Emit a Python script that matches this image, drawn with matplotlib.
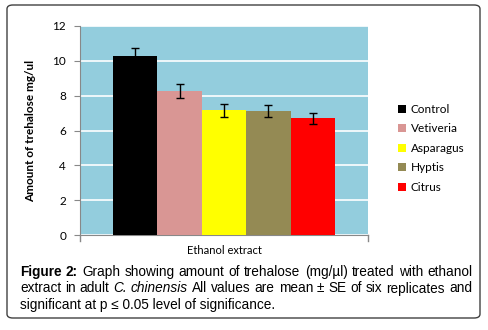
import matplotlib
matplotlib.use("Agg")
import matplotlib.pyplot as plt
from matplotlib.patches import FancyBboxPatch, Patch

# data
groups = ["Control", "Vetiveria", "Asparagus", "Hyptis", "Citrus"]
means = [10.25, 8.25, 7.15, 7.1, 6.7]
errors = [0.5, 0.4, 0.37, 0.35, 0.3]
colors = ["#000000", "#D99694", "#FFFF00", "#948A54", "#FF0000"]
yticks = [0, 2, 4, 6, 8, 10, 12]

W, H = 489, 330
fig = plt.figure(figsize=(W / 100, H / 100), dpi=100)

# outer rounded frame
frame = FancyBboxPatch((7 / W, 12 / H), 473 / W, 313 / H,
                       boxstyle="round,pad=0,rounding_size=0.012",
                       transform=fig.transFigure, fill=False,
                       edgecolor="#404040", lw=1.0)
fig.patches.append(frame)

ax = fig.add_axes([80 / W, 95 / H, 288 / W, 209 / H])
ax.set_facecolor("#93CDDD")
x = range(len(groups))
ax.bar(x, means, width=1.0, color=colors, zorder=3)
ax.errorbar(x, means, yerr=errors, fmt="none", ecolor="black",
            elinewidth=1, capsize=3, capthick=1, zorder=4)

ax.set_xlim(-1.24, 5.24)
ax.set_ylim(0, 12)
ax.set_yticks(yticks)
ax.yaxis.grid(True, color="white", lw=1.2, zorder=1)
ax.set_xticks([])
for s in ["top", "right"]:
    ax.spines[s].set_visible(False)
for s in ["left", "bottom"]:
    ax.spines[s].set_color("#888888")
ax.tick_params(axis="y", length=4, color="#888888", labelsize=8.5, pad=6)
for lab in ax.get_yticklabels():
    lab.set_fontfamily("Lato")
# small end ticks on x axis
ax.plot([-1.24, -1.24], [0, -0.35], color="#888888", lw=1, clip_on=False)
ax.plot([5.24, 5.24], [0, -0.35], color="#888888", lw=1, clip_on=False)

ax.set_ylabel("Amount of trehalose mg/ul", fontfamily="Lato",
              fontweight="bold", fontsize=8.5, labelpad=12)
fig.text(224 / W, 1 - 251 / H, "Ethanol extract", ha="center", va="center",
         fontfamily="Lato", fontsize=8)

handles = [Patch(facecolor=c, edgecolor="none") for c in colors]
fig.legend(handles, groups, loc="upper left",
           bbox_to_anchor=(392 / W, 1 - 98 / H), frameon=False,
           prop={"family": "Lato", "size": 8.5},
           handlelength=0.7, handleheight=0.7, handletextpad=0.4,
           labelspacing=0.72, borderpad=0)

# caption, justified lines
cap_font = "Liberation Sans"
cap_size = 9.8
lines = [
    [("Figure", "bold", "normal"), ("2:", "bold", "normal"),
     ("Graph", "normal", "normal"), ("showing", "normal", "normal"),
     ("amount", "normal", "normal"), ("of", "normal", "normal"),
     ("trehalose", "normal", "normal"), ("(mg/µl)", "normal", "normal"),
     ("treated", "normal", "normal"), ("with", "normal", "normal"),
     ("ethanol", "normal", "normal")],
    [("extract", "normal", "normal"), ("in", "normal", "normal"),
     ("adult", "normal", "normal"), ("C.", "normal", "italic"),
     ("chinensis", "normal", "italic"), ("All", "normal", "normal"),
     ("values", "normal", "normal"), ("are", "normal", "normal"),
     ("mean", "normal", "normal"), ("±", "normal", "normal"),
     ("SE", "normal", "normal"), ("of", "normal", "normal"),
     ("six", "normal", "normal"), ("replicates", "normal", "normal"),
     ("and", "normal", "normal")],
]
last_line = "significant at p ≤ 0.05 level of significance."
line_y = [276, 292.5, 309]
x0, x1 = 20, 472

fig.canvas.draw()
renderer = fig.canvas.get_renderer()
for words, yy in zip(lines, line_y):
    texts = []
    for w, wt, st in words:
        t = fig.text(0, 1 - yy / H, w, fontfamily=cap_font, fontsize=cap_size,
                     fontweight=wt, fontstyle=st, va="baseline", ha="left")
        texts.append(t)
    widths = [t.get_window_extent(renderer).width for t in texts]
    gap = (x1 - x0 - sum(widths)) / (len(texts) - 1)
    pos = x0
    for t, wd in zip(texts, widths):
        t.set_x(pos / W)
        pos += wd + gap
fig.text(x0 / W, 1 - line_y[2] / H, last_line, fontfamily=cap_font,
         fontsize=cap_size, va="baseline", ha="left")

fig.savefig("out.png", dpi=100)
